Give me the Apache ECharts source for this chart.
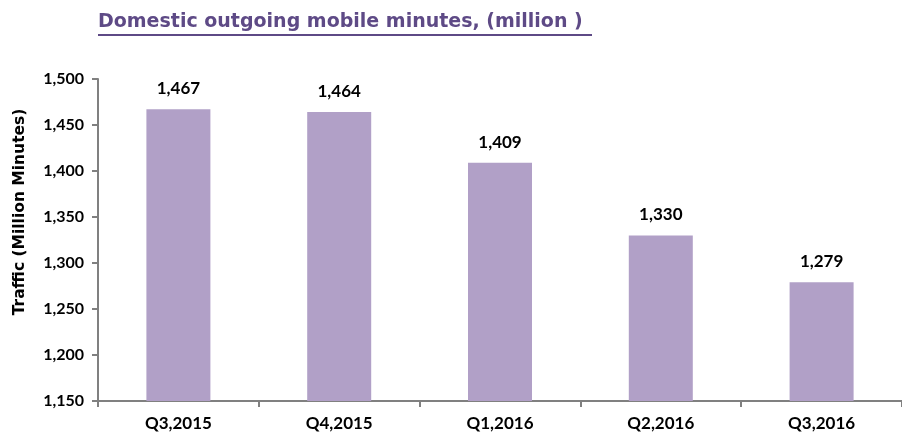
<!DOCTYPE html>
<html>
<head>
<meta charset="utf-8">
<script src="https://cdn.jsdelivr.net/npm/echarts@6/dist/echarts.min.js"></script>
<style>
  html, body { margin: 0; padding: 0; background: #ffffff; }
  #chart { width: 902px; height: 439px; }
</style>
</head>
<body>
<div id="chart"></div>
<script>
const quarters = ['Q3,2015', 'Q4,2015', 'Q1,2016', 'Q2,2016', 'Q3,2016']
const minutes = [1467, 1464, 1409, 1330, 1279]

const fmt = v => v.toLocaleString('en-US')

let chart = echarts.init(document.getElementById('chart'))
let option = {
  animation: false,
  title: {
    text: 'Domestic outgoing mobile minutes, (million )',
    left: 93,
    top: 8,
    textStyle: {
      color: '#5e4a86',
      fontSize: 19,
      fontWeight: 'bold',
      fontFamily: 'DejaVu Sans'
    }
  },
  graphic: [
    // underline under the title
    {
      type: 'rect',
      shape: { x: 98, y: 34, width: 494, height: 2 },
      style: { fill: '#5e4a86' }
    }
  ],
  grid: {
    left: 98,
    top: 79,
    bottom: 38,
    width: 810
  },
  xAxis: {
    type: 'category',
    data: quarters,
    axisLine: { lineStyle: { color: '#808080', width: 2 } },
    axisTick: { show: true, length: 6, lineStyle: { color: '#808080', width: 2 } },
    axisLabel: {
      color: '#000',
      fontSize: 17,
      fontWeight: 'bold',
      fontFamily: 'Lato',
      margin: 14
    }
  },
  yAxis: {
    type: 'value',
    min: 1150,
    max: 1500,
    interval: 50,
    name: 'Traffic (Million Minutes)',
    nameLocation: 'middle',
    nameGap: 70,
    nameTextStyle: {
      color: '#000', fontSize: 15.5, fontWeight: 'bold', fontFamily: 'DejaVu Sans',
      padding: [0, 0, 0, 56]
    },
    splitLine: { show: false },
    axisLine: { show: true, lineStyle: { color: '#808080', width: 2 } },
    axisTick: { show: true, length: 6, lineStyle: { color: '#808080', width: 2 } },
    axisLabel: {
      color: '#000',
      fontSize: 16,
      fontWeight: 'bold',
      fontFamily: 'Lato',
      margin: 14,
      formatter: v => fmt(v)
    }
  },
  series: [
    {
      type: 'bar',
      data: minutes,
      barWidth: 64,
      itemStyle: { color: '#b1a0c7' },
      label: {
        show: true,
        position: 'top',
        distance: 12,
        color: '#000',
        fontSize: 17,
        fontWeight: 'bold',
        fontFamily: 'Lato',
        formatter: p => fmt(p.value)
      }
    }
  ]
}
chart.setOption(option)
</script>
</body>
</html>
